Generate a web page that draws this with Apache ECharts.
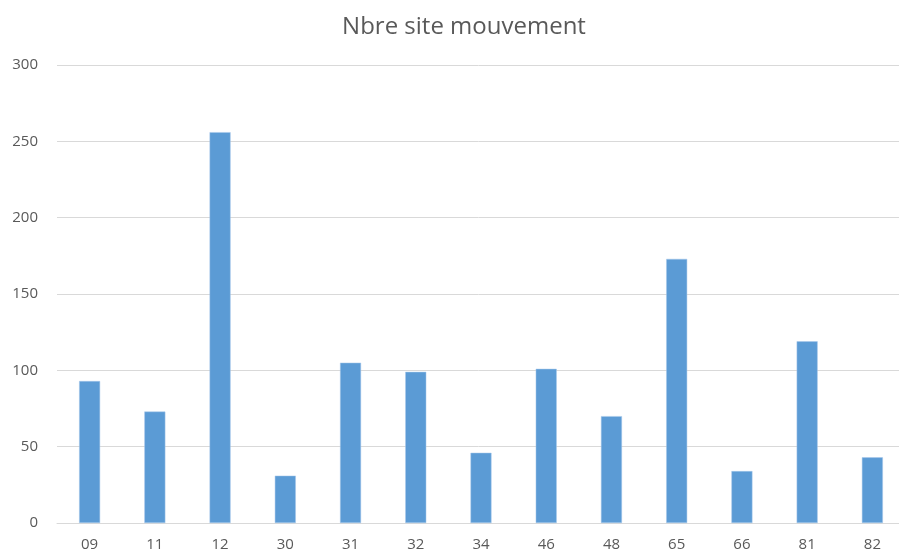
<!DOCTYPE html>
<html>
<head>
<meta charset="utf-8">
<script src="https://cdn.jsdelivr.net/npm/echarts@6/dist/echarts.min.js"></script>
<style>html,body{margin:0;padding:0;background:#fff;overflow:hidden;}#c{width:899px;height:552px;}</style>
</head>
<body>
<div id="c"></div>
<script>
const categories = ['09','11','12','30','31','32','34','46','48','65','66','81','82'];
const values = [93, 73, 256, 31, 105, 99, 46, 101, 70, 173, 34, 119, 43];
const yTicks = [0, 50, 100, 150, 200, 250, 300];
const titleText = 'Nbre site mouvement';

const chart = echarts.init(document.getElementById('c'));
chart.setOption({
  animation: false,
  backgroundColor: '#ffffff',
  title: {
    text: titleText,
    left: 459, top: 10, textAlign: 'center',
    textStyle: { fontFamily: 'Open Sans', fontSize: 24, fontWeight: 'normal', color: '#595959' }
  },
  grid: { left: 57, right: -6, top: 65, bottom: 29, containLabel: false, outerBoundsMode: 'none' },
  xAxis: {
    type: 'category',
    data: categories,
    axisLine: { lineStyle: { color: '#d9d9d9', width: 1 } },
    axisTick: { show: false },
    axisLabel: { fontFamily: 'Open Sans', fontSize: 15, color: '#595959', margin: 14 }
  },
  yAxis: {
    type: 'value',
    min: yTicks[0], max: yTicks[yTicks.length - 1], interval: 50,
    axisLine: { show: false },
    axisTick: { show: false },
    splitLine: { lineStyle: { color: '#d9d9d9', width: 1 } },
    axisLabel: { fontFamily: 'Open Sans', fontSize: 15, color: '#595959', margin: 19 }
  },
  series: [{
    type: 'bar',
    data: values,
    barWidth: 21,
    itemStyle: { color: '#5b9bd5', borderColor: '#a8c9ea', borderWidth: 0.5 }
  }]
});
</script>
</body>
</html>
